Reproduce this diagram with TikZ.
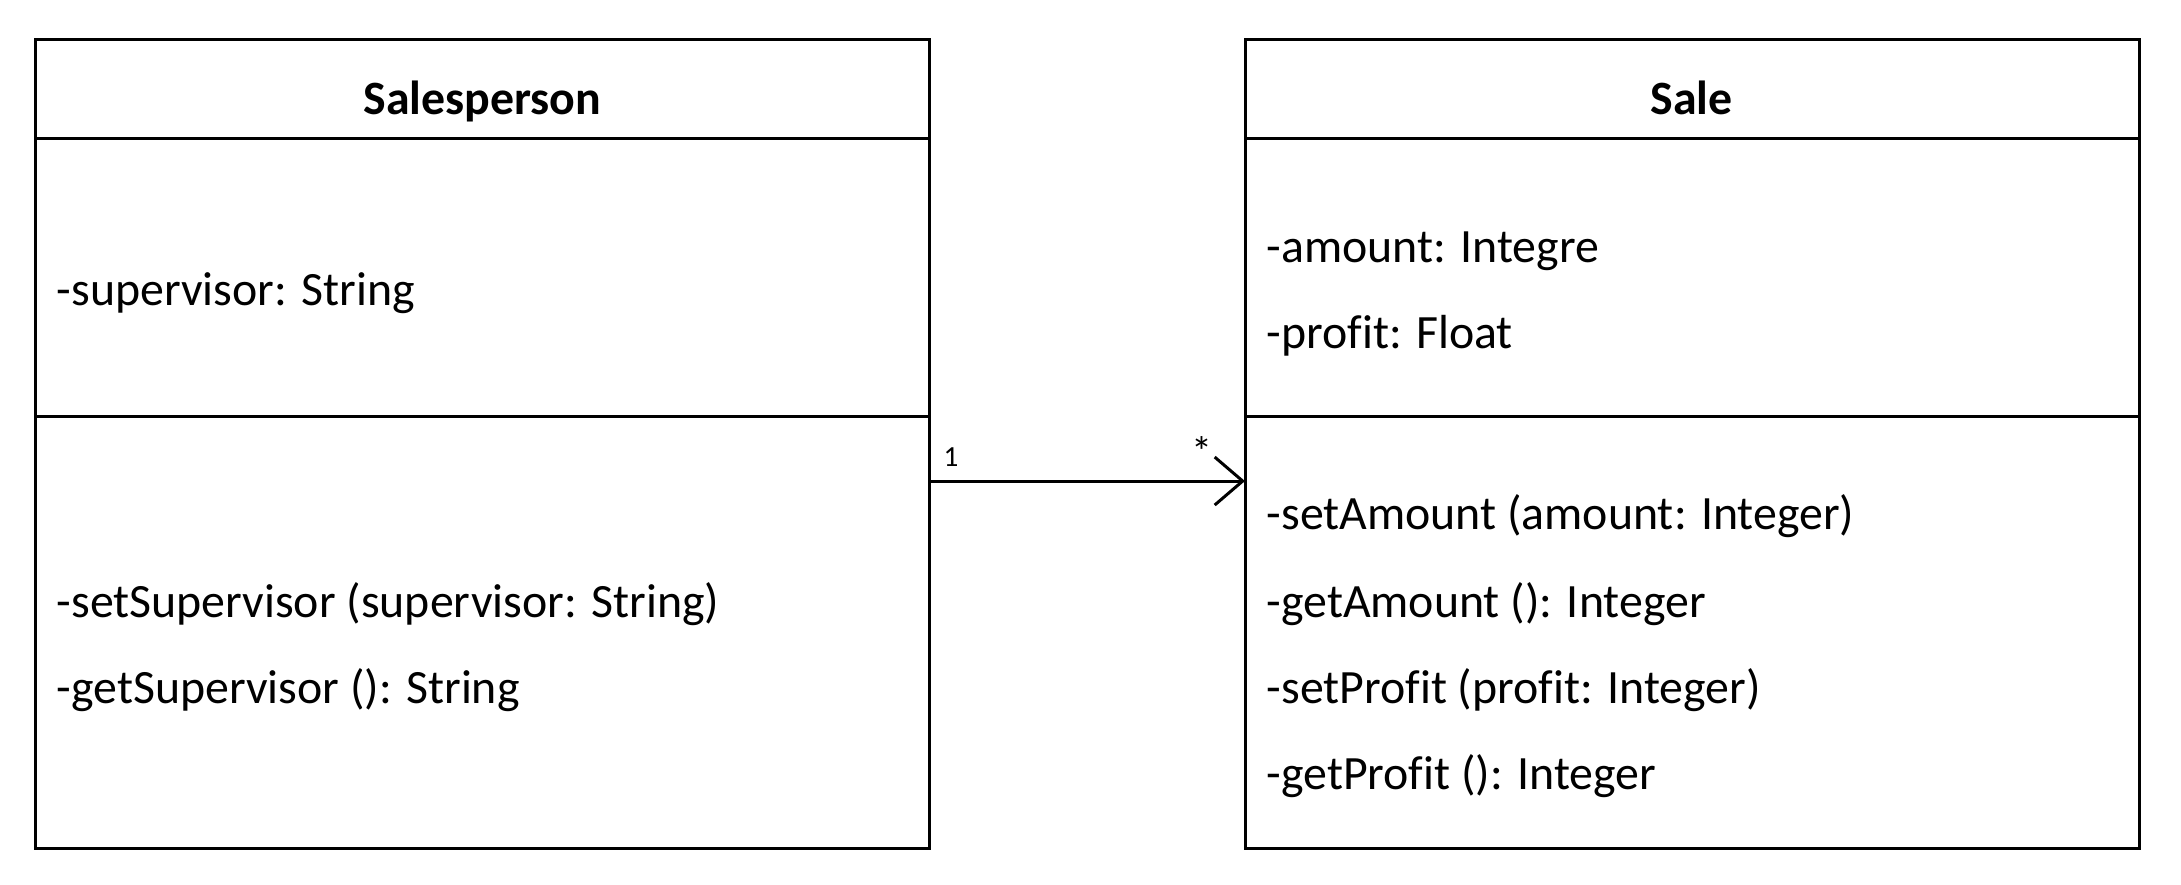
\documentclass[tikz,border=0pt]{standalone}
\usepackage{fontspec}
\setmainfont{Carlito}[Ligatures=NoCommon]
\usetikzlibrary{arrows.meta}

\begin{document}
\begin{tikzpicture}[x=0.01cm,y=-0.01cm,
    part/.style={draw, line width=0.85pt, rectangle, anchor=north west,
        minimum width=8.935cm, inner sep=0, outer sep=0},
    member/.style={anchor=base west, inner sep=0, font=\fontsize{13.6}{16}\selectfont},
    classname/.style={anchor=base, inner sep=0, font=\fontsize{13.6}{16}\selectfont\bfseries},
    mult/.style={inner sep=0, font=\fontsize{8.3}{10}\selectfont},
    assoc/.style={line width=0.85pt, -{Straight Barb[length=0.28cm,width=0.48cm]}}]
    \useasboundingbox (0,0) rectangle (2181,884);

    % clase Salesperson
    \node[part, minimum height=0.99cm] (sp-name) at (35.5,39.5) {};
    \node[part, minimum height=2.775cm] (sp-attr) at (35.5,138.5) {};
    \node[part, minimum height=4.32cm] (sp-ops) at (35.5,416) {};
    \node[classname] (sp-title) at (482.25,114) {Salesperson};
    \node[member] (sp-a1) at (56,305) {-supervisor: String};
    \node[member] (sp-m1) at (56,617) {-setSupervisor (supervisor: String)};
    \node[member] (sp-m2) at (56,703) {-getSupervisor (): String};

    % clase Sale
    \node[part, minimum height=0.99cm] (sale-name) at (1245,39.5) {};
    \node[part, minimum height=2.775cm] (sale-attr) at (1245,138.5) {};
    \node[part, minimum height=4.32cm] (sale-ops) at (1245,416) {};
    \node[classname] (sale-title) at (1691.75,114) {Sale};
    \node[member] (sale-a1) at (1266,262) {-amount: Integre};
    \node[member] (sale-a2) at (1266,348) {-profit: Float};
    \node[member] (sale-m1) at (1266,529) {-setAmount (amount: Integer)};
    \node[member] (sale-m2) at (1266,617) {-getAmount (): Integer};
    \node[member] (sale-m3) at (1266,703) {-setProfit (profit: Integer)};
    \node[member] (sale-m4) at (1266,789) {-getProfit (): Integer};

    % asociación
    \draw[assoc] ([yshift=-0.65cm]sp-ops.north east) -- ([yshift=-0.65cm]sale-ops.north west);
    \node[mult] (m-one) at (951,457) {1};
    \node[mult, font=\fontsize{12}{14}\selectfont] (m-many) at (1202,452) {*};
\end{tikzpicture}
\end{document}
